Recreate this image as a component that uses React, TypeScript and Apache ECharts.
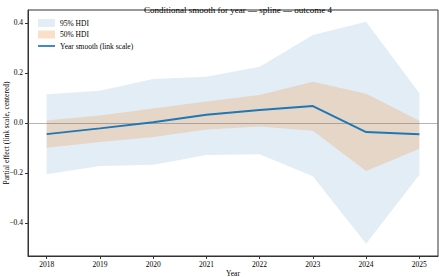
import React, { useEffect, useRef } from "react";
import * as echarts from "echarts";

const years = [2018, 2019, 2020, 2021, 2022, 2023, 2024, 2025];
const hdi95Lower = [-0.205, -0.172, -0.167, -0.128, -0.125, -0.213, -0.483, -0.207];
const hdi95Upper = [0.114, 0.128, 0.175, 0.184, 0.224, 0.351, 0.404, 0.118];
const hdi50Lower = [-0.099, -0.076, -0.056, -0.027, -0.015, -0.032, -0.192, -0.103];
const hdi50Upper = [0.009, 0.029, 0.057, 0.085, 0.111, 0.164, 0.116, 0.008];
const smooth = [-0.045, -0.022, 0.002, 0.032, 0.051, 0.067, -0.037, -0.045];
const yTicks = [-0.4, -0.2, 0.0, 0.2, 0.4];

const FONT = "Liberation Serif";
const BLUE = "#1f77b4";
const BAND95 = "rgba(31,119,180,0.13)";
const BAND50 = "rgba(240,130,40,0.22)";

function bandSeries(name: string, lo: number[], hi: number[], color: string) {
  return {
    name,
    type: "custom",
    color,
    silent: true,
    clip: true,
    data: years.map((y, i) => [y, lo[i], hi[i]]),
    encode: { x: 0, y: [1, 2] },
    renderItem: (params: any, api: any) => {
      if (params.dataIndex !== 0) return null;
      const top = years.map((y, i) => api.coord([y, hi[i]]));
      const bottom = years.map((y, i) => api.coord([y, lo[i]])).reverse();
      return {
        type: "polygon",
        shape: { points: top.concat(bottom) },
        style: { fill: color, stroke: "none" },
      };
    },
  };
}

export default function App() {
  const ref = useRef<HTMLDivElement>(null);
  useEffect(() => {
    document.body.style.margin = "0";
    if (!ref.current) return;
    const chart = echarts.init(ref.current, null, { renderer: "svg" });
    const pairs = (arr: number[]) => years.map((y, i) => [y, arr[i]]);
    const fmt = (v: number) => {
      const s = Math.abs(v).toFixed(1);
      return v < -1e-9 ? "\u2212" + s : s;
    };
    chart.setOption({
      animation: false,
      textStyle: { fontFamily: FONT },
      title: {
        text: "Conditional smooth for year \u2014 spline \u2014 outcome 4",
        left: 233,
        textAlign: "center",
        top: 0,
        textStyle: { fontFamily: FONT, fontSize: 9, fontWeight: "normal", color: "#000" },
      },
      grid: {
        left: 28,
        right: 1,
        top: 10,
        bottom: 21,
        containLabel: false,
        outerBoundsMode: "none",
        show: true,
        borderColor: "#333",
        borderWidth: 1,
        backgroundColor: "transparent",
      },
      legend: {
        orient: "vertical",
        left: 33,
        top: 14,
        itemWidth: 17,
        itemHeight: 8,
        itemGap: 3.5,
        textStyle: { fontFamily: FONT, fontSize: 7.5, color: "#000" },
        data: [
          { name: "95% HDI", icon: "rect", itemStyle: { color: BAND95 } },
          { name: "50% HDI", icon: "rect", itemStyle: { color: "rgba(240,130,40,0.25)" } },
          {
            name: "Year smooth (link scale)",
            icon: "path://M0,0 H40 V4 H0 Z",
            itemStyle: { color: BLUE },
          },
        ],
      },
      xAxis: {
        type: "value",
        min: 2017.65,
        max: 2025.35,
        name: "Year",
        nameLocation: "middle",
        nameGap: 13,
        nameMoveOverlap: false,
        nameTextStyle: { fontFamily: FONT, fontSize: 7.5, color: "#000" },
        splitLine: { show: false },
        axisLine: { onZero: false, lineStyle: { color: "#333", width: 1 } },
        axisTick: { customValues: years, length: 3, lineStyle: { color: "#333" } },
        axisLabel: {
          customValues: years,
          formatter: (v: number) => String(v),
          fontFamily: FONT,
          fontSize: 7.5,
          color: "#000",
          margin: 4,
        },
      },
      yAxis: {
        type: "value",
        min: -0.532,
        max: 0.451,
        name: "Partial effect (link scale, centered)",
        nameLocation: "middle",
        nameGap: 18,
        nameMoveOverlap: false,
        nameTextStyle: { fontFamily: FONT, fontSize: 7.5, color: "#000" },
        splitLine: { show: false },
        axisLine: { show: true, onZero: false, lineStyle: { color: "#333", width: 1 } },
        axisTick: { show: true, customValues: yTicks, length: 3, lineStyle: { color: "#333" } },
        axisLabel: {
          customValues: yTicks,
          formatter: (v: number) => fmt(v),
          fontFamily: FONT,
          fontSize: 7.5,
          color: "#000",
          margin: 5,
        },
      },
      series: [
        bandSeries("95% HDI", hdi95Lower, hdi95Upper, BAND95),
        bandSeries("50% HDI", hdi50Lower, hdi50Upper, BAND50),
        {
          name: "Year smooth (link scale)",
          type: "line",
          data: pairs(smooth),
          symbol: "none",
          color: BLUE,
          lineStyle: { color: BLUE, width: 2 },
          z: 5,
          markLine: {
            silent: true,
            symbol: ["none", "none"],
            label: { show: false },
            lineStyle: { color: "rgba(120,120,120,0.55)", width: 1.2, type: "solid" },
            data: [{ yAxis: 0 }],
          },
        },
      ],
    });
    return () => chart.dispose();
  }, []);
  return <div ref={ref} style={{ width: 439, height: 277 }} />;
}
